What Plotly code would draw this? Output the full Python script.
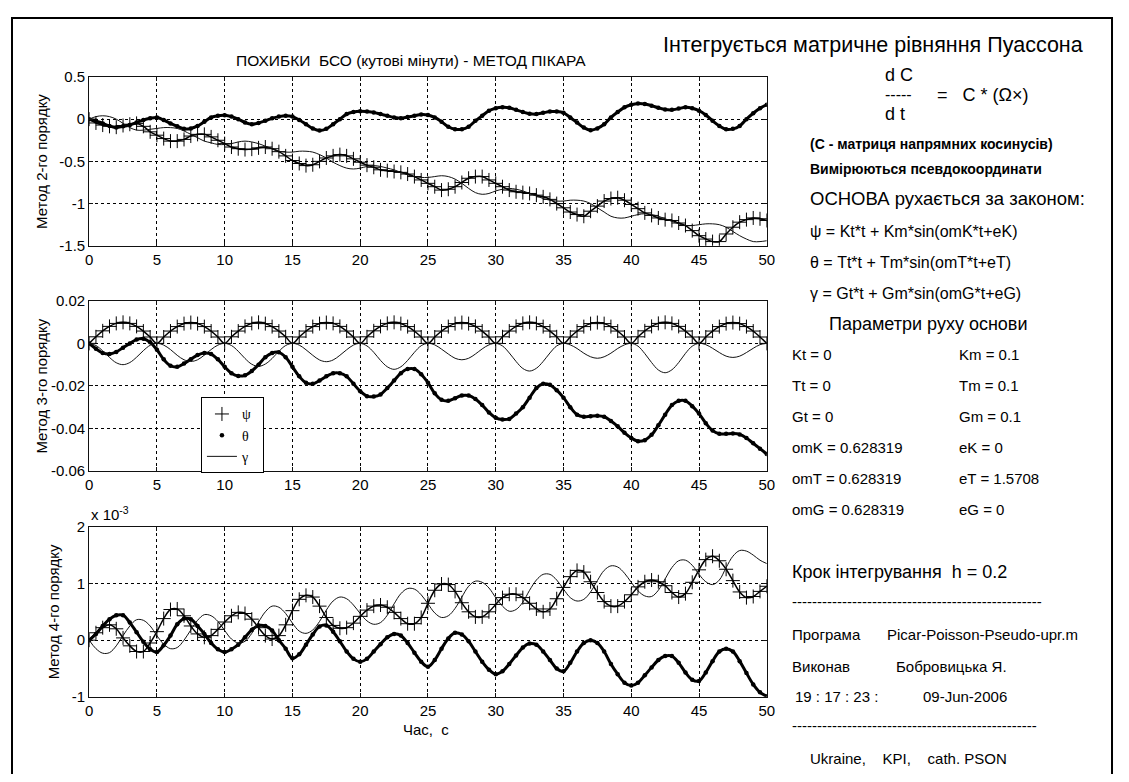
import plotly.graph_objects as go

# The page body keeps its default 8px margin, so the figure is 16px smaller
# than the window and all reference pixel positions are shifted by 8px.
OFF = 8
FW, FH = 1113, 766
FONT = "Liberation Sans"

# time grid (s)
t = [i * 0.5 for i in range(101)]

# ---- Plot 1: method of 2nd order (angular minutes)
psi1 = [0, -0.045, -0.07, -0.085, -0.095, -0.075, -0.06, -0.05, -0.085, -0.15,
        -0.19, -0.23, -0.26, -0.26, -0.24, -0.2, -0.18, -0.18, -0.21, -0.25,
        -0.29, -0.33, -0.35, -0.36, -0.355, -0.34, -0.33, -0.35, -0.385, -0.435,
        -0.49, -0.525, -0.55, -0.54, -0.5, -0.46, -0.435, -0.42, -0.435, -0.47,
        -0.51, -0.545, -0.57, -0.6, -0.61, -0.62, -0.63, -0.65, -0.68, -0.72,
        -0.76, -0.8, -0.84, -0.83, -0.8, -0.75, -0.7, -0.68, -0.68, -0.72,
        -0.76, -0.8, -0.84, -0.86, -0.87, -0.88, -0.9, -0.92, -0.95, -1.0,
        -1.05, -1.1, -1.13, -1.15, -1.09, -1.03, -0.97, -0.94, -0.93, -0.96,
        -1.01, -1.06, -1.11, -1.14, -1.17, -1.19, -1.2, -1.23, -1.26, -1.32,
        -1.38, -1.42, -1.45, -1.45, -1.36, -1.28, -1.22, -1.19, -1.17, -1.18,
        -1.2]
theta1 = [0, -0.02, -0.05, -0.08, -0.1, -0.085, -0.07, -0.04, -0.01, 0.01,
          0.02, -0.01, -0.05, -0.085, -0.115, -0.11, -0.08, -0.03, 0.02, 0.04,
          0.045, 0.03, 0.0, -0.04, -0.06, -0.045, -0.02, 0.01, 0.03, 0.04,
          0.03, -0.01, -0.06, -0.11, -0.135, -0.115, -0.06, 0.0, 0.06, 0.085,
          0.095, 0.09, 0.08, 0.06, 0.04, 0.02, 0.01, 0.025, 0.04, 0.055,
          0.05, 0.02, -0.03, -0.09, -0.12, -0.12, -0.09, -0.02, 0.04, 0.1,
          0.13, 0.14, 0.135, 0.11, 0.085, 0.065, 0.06, 0.075, 0.09, 0.09,
          0.075, 0.02, -0.04, -0.1, -0.13, -0.11, -0.06, 0.02, 0.085, 0.14,
          0.17, 0.185, 0.18, 0.16, 0.135, 0.115, 0.11, 0.125, 0.14, 0.13,
          0.1, 0.05, -0.02, -0.08, -0.12, -0.115, -0.08, 0.0, 0.07, 0.13,
          0.17]
gamma1 = [0, 0.03, 0.04, 0.03, 0.0, -0.05, -0.1, -0.13, -0.13, -0.12,
          -0.11, -0.1, -0.1, -0.11, -0.14, -0.18, -0.22, -0.26, -0.28, -0.3,
          -0.3, -0.29, -0.27, -0.26, -0.27, -0.29, -0.32, -0.35, -0.38, -0.39,
          -0.39, -0.38, -0.38, -0.39, -0.42, -0.46, -0.51, -0.55, -0.58, -0.59,
          -0.58, -0.56, -0.55, -0.56, -0.58, -0.6, -0.63, -0.66, -0.68, -0.69,
          -0.69, -0.68, -0.67, -0.68, -0.71, -0.76, -0.82, -0.87, -0.89, -0.88,
          -0.85, -0.83, -0.82, -0.83, -0.85, -0.88, -0.91, -0.94, -0.96, -0.97,
          -0.97, -0.96, -0.96, -0.97, -1.0, -1.05, -1.1, -1.15, -1.17, -1.17,
          -1.15, -1.13, -1.12, -1.13, -1.15, -1.18, -1.21, -1.24, -1.26, -1.26,
          -1.25, -1.24, -1.24, -1.25, -1.28, -1.33, -1.38, -1.42, -1.45, -1.45,
          -1.44]

# ---- Plot 2: method of 3rd order
psi2 = [0, 0.0031, 0.0059, 0.0080, 0.0094, 0.0099, 0.0094, 0.0080, 0.0058, 0.0030,
        0, 0.0030, 0.0058, 0.0079, 0.0093, 0.0098, 0.0093, 0.0079, 0.0058, 0.0030,
        0, 0.0031, 0.0058, 0.0080, 0.0094, 0.0099, 0.0093, 0.0079, 0.0058, 0.0031,
        0, 0.0030, 0.0058, 0.0079, 0.0093, 0.0098, 0.0094, 0.0080, 0.0058, 0.0030,
        0, 0.0031, 0.0059, 0.0080, 0.0094, 0.0099, 0.0093, 0.0079, 0.0058, 0.0030,
        0, 0.0030, 0.0058, 0.0079, 0.0093, 0.0098, 0.0093, 0.0080, 0.0058, 0.0030,
        0, 0.0031, 0.0058, 0.0080, 0.0094, 0.0099, 0.0094, 0.0079, 0.0058, 0.0031,
        0, 0.0030, 0.0058, 0.0079, 0.0093, 0.0098, 0.0093, 0.0079, 0.0058, 0.0030,
        0, 0.0031, 0.0059, 0.0080, 0.0094, 0.0099, 0.0094, 0.0080, 0.0058, 0.0030,
        0, 0.0030, 0.0058, 0.0079, 0.0093, 0.0098, 0.0093, 0.0079, 0.0058, 0.0030,
        0]
theta2 = [0, -0.0025, -0.0045, -0.005, -0.004, -0.002, 0.0, 0.0018, 0.0022, 0.0005,
          -0.003, -0.0075, -0.0105, -0.011, -0.0095, -0.0075, -0.0055, -0.0045, -0.005, -0.0075,
          -0.011, -0.014, -0.0153, -0.015, -0.013, -0.01, -0.0065, -0.0045, -0.0042, -0.0065,
          -0.011, -0.0155, -0.0185, -0.019, -0.0175, -0.0155, -0.014, -0.014, -0.0155, -0.019,
          -0.0225, -0.0248, -0.025, -0.024, -0.021, -0.0175, -0.014, -0.012, -0.012, -0.0145,
          -0.0185, -0.0235, -0.0265, -0.027, -0.0258, -0.0245, -0.0245, -0.0262, -0.029, -0.0325,
          -0.035, -0.0358, -0.0355, -0.033, -0.03, -0.0255, -0.021, -0.019, -0.0195, -0.022,
          -0.0255, -0.03, -0.0335, -0.0345, -0.0342, -0.034, -0.0345, -0.0365, -0.039, -0.042,
          -0.0445, -0.046, -0.0455, -0.043, -0.0385, -0.0335, -0.029, -0.027, -0.027, -0.0295,
          -0.033, -0.0375, -0.041, -0.0425, -0.0425, -0.0424, -0.0428, -0.0445, -0.047, -0.0495,
          -0.052]
gamma2 = [0, -0.0010, -0.0035, -0.0066, -0.0091, -0.0100, -0.0090, -0.0065, -0.0034, -0.0009,
          0, -0.0008, -0.0029, -0.0056, -0.0077, -0.0085, -0.0077, -0.0055, -0.0029, -0.0008,
          0, -0.0010, -0.0037, -0.0071, -0.0098, -0.0108, -0.0097, -0.0071, -0.0037, -0.0010,
          0, -0.0008, -0.0030, -0.0056, -0.0078, -0.0086, -0.0078, -0.0056, -0.0030, -0.0008,
          0, -0.0012, -0.0042, -0.0080, -0.0110, -0.0122, -0.0110, -0.0080, -0.0042, -0.0011,
          0, -0.0007, -0.0027, -0.0050, -0.0070, -0.0077, -0.0070, -0.0050, -0.0026, -0.0007,
          0, -0.0012, -0.0045, -0.0085, -0.0118, -0.0130, -0.0117, -0.0085, -0.0045, -0.0012,
          0, -0.0007, -0.0024, -0.0046, -0.0063, -0.0070, -0.0063, -0.0046, -0.0024, -0.0007,
          0, -0.0013, -0.0048, -0.0090, -0.0125, -0.0138, -0.0124, -0.0090, -0.0047, -0.0013,
          0, -0.0006, -0.0023, -0.0043, -0.0060, -0.0066, -0.0060, -0.0043, -0.0023, -0.0006,
          0]

# ---- Plot 3: method of 4th order (units of 1e-3)
psi3 = [0, 0.13, 0.22, 0.27, 0.2, 0.04, -0.1, -0.2, -0.2, -0.05,
        0.15, 0.38, 0.54, 0.55, 0.43, 0.25, 0.11, 0.05, 0.08, 0.19,
        0.32, 0.43, 0.49, 0.47, 0.37, 0.22, 0.08, 0.02, 0.08, 0.27,
        0.52, 0.72, 0.79, 0.76, 0.6, 0.4, 0.26, 0.21, 0.22, 0.3,
        0.42, 0.53, 0.6, 0.62, 0.58, 0.49, 0.38, 0.29, 0.29, 0.4,
        0.65, 0.88, 0.99, 0.98, 0.86, 0.66, 0.5, 0.41, 0.41, 0.5,
        0.63, 0.75, 0.81, 0.81, 0.75, 0.65, 0.55, 0.5, 0.55, 0.73,
        0.93, 1.12, 1.23, 1.2, 1.03, 0.84, 0.68, 0.6, 0.6, 0.68,
        0.8, 0.94, 1.03, 1.06, 1.03, 0.96, 0.84, 0.76, 0.82, 1.02,
        1.24, 1.42, 1.48, 1.4, 1.25, 1.05, 0.85, 0.75, 0.77, 0.86,
        0.95]
theta3 = [0, 0.11, 0.25, 0.37, 0.44, 0.44, 0.31, 0.14, -0.03, -0.16,
          -0.21, -0.09, 0.08, 0.28, 0.38, 0.37, 0.25, 0.11, -0.05, -0.16,
          -0.21, -0.16, -0.08, 0.05, 0.18, 0.26, 0.25, 0.17, 0.0, -0.15,
          -0.32, -0.25, -0.08, 0.1, 0.24, 0.26, 0.15, -0.02, -0.2, -0.33,
          -0.38, -0.33, -0.2, -0.07, 0.05, 0.11, 0.08, -0.05, -0.22, -0.38,
          -0.47, -0.35, -0.15, 0.03, 0.13, 0.1, -0.02, -0.2, -0.38, -0.52,
          -0.6, -0.55, -0.42, -0.27, -0.13, -0.06, -0.08, -0.2, -0.35, -0.5,
          -0.55, -0.4, -0.2, -0.05, 0.0, -0.05, -0.2, -0.42, -0.6, -0.75,
          -0.8, -0.75, -0.62, -0.48, -0.35, -0.28, -0.28, -0.4, -0.57, -0.7,
          -0.72, -0.57, -0.37, -0.2, -0.15, -0.2, -0.37, -0.58, -0.78, -0.92,
          -0.99]
gamma3 = [0, -0.15, -0.23, -0.22, -0.1, 0.08, 0.25, 0.36, 0.35, 0.25,
          0.08, -0.07, -0.15, -0.13, 0.0, 0.18, 0.35, 0.45, 0.43, 0.33,
          0.17, 0.02, -0.05, -0.02, 0.12, 0.32, 0.5, 0.6, 0.58, 0.47,
          0.3, 0.16, 0.12, 0.18, 0.33, 0.53, 0.69, 0.76, 0.73, 0.62,
          0.47, 0.34, 0.28, 0.31, 0.44, 0.64, 0.82, 0.91, 0.9, 0.8,
          0.64, 0.48, 0.4, 0.43, 0.56, 0.76, 0.95, 1.04, 1.02, 0.92,
          0.75, 0.6, 0.51, 0.54, 0.67, 0.88, 1.06, 1.16, 1.16, 1.06,
          0.9, 0.75, 0.69, 0.72, 0.85, 1.05, 1.23, 1.31, 1.29, 1.18,
          1.02, 0.87, 0.78, 0.77, 0.88, 1.08, 1.28, 1.4, 1.41, 1.32,
          1.16, 1.03, 0.98, 1.06, 1.28, 1.48, 1.58, 1.57, 1.5, 1.41,
          1.35]

x_ticks = list(range(0, 51, 5))
y1_ticks = [-1.5, -1, -0.5, 0, 0.5]
y1_labels = ["-1.5", "-1", "-0.5", "0", "0.5"]
y2_ticks = [-0.06, -0.04, -0.02, 0, 0.02]
y2_labels = ["-0.06", "-0.04", "-0.02", "0", "0.02"]
y3_ticks = [-1, 0, 1, 2]
y3_labels = ["-1", "0", "1", "2"]

series = [(psi1, theta1, gamma1), (psi2, theta2, gamma2), (psi3, theta3, gamma3)]
NB = "\u00a0"

fig = go.Figure()
for k, (ps, th, ga) in enumerate(series):
    ax = "" if k == 0 else str(k + 1)
    first = k == 0
    fig.add_trace(go.Scatter(x=t, y=ps, mode="lines", showlegend=False,
                             xaxis="x" + ax, yaxis="y" + ax, hoverinfo="skip",
                             line=dict(color="black", width=1.5, shape="spline")))
    fig.add_trace(go.Scatter(x=t, y=ps, mode="markers", name="ψ" + NB * 2,
                             xaxis="x" + ax, yaxis="y" + ax, showlegend=first,
                             marker=dict(symbol="cross-thin", size=10, color="black",
                                         line=dict(color="black", width=1))))
    fig.add_trace(go.Scatter(x=t, y=th, mode="lines", showlegend=False,
                             xaxis="x" + ax, yaxis="y" + ax, hoverinfo="skip",
                             line=dict(color="black", width=3, shape="spline")))
    fig.add_trace(go.Scatter(x=t, y=th, mode="markers", name="θ" + NB * 2,
                             xaxis="x" + ax, yaxis="y" + ax, showlegend=first,
                             marker=dict(symbol="circle", size=4.5, color="black")))
    fig.add_trace(go.Scatter(x=t, y=ga, mode="lines", name="γ" + NB * 2,
                             xaxis="x" + ax, yaxis="y" + ax, showlegend=first,
                             line=dict(color="#111", width=1, shape="spline")))


def px(x):
    return (x - OFF) / FW


def py(y):
    return 1 - (y - OFF) / FH


xdom = [px(86), px(771)]
ydoms = [[py(242), py(69.3)], [py(472.3), py(298.3)], [py(703.3), py(529.3)]]
yticks = [(y1_ticks, y1_labels, [-1.5, 0.5]), (y2_ticks, y2_labels, [-0.06, 0.02]),
          (y3_ticks, y3_labels, [-1, 2])]

axis_common = dict(showgrid=True, gridcolor="black", gridwidth=1, griddash="3px,3px",
                   showline=True, linecolor="#111", linewidth=1, mirror="ticks",
                   ticks="inside", ticklen=4, tickcolor="#111", zeroline=False,
                   tickfont=dict(family=FONT, size=15, color="black"))

layout_axes = {}
for k in range(3):
    ax = "" if k == 0 else str(k + 1)
    layout_axes["xaxis" + ax] = dict(domain=xdom, anchor="y" + ax, range=[0, 50],
                                     tickvals=x_ticks, ticktext=[str(v) for v in x_ticks],
                                     **axis_common)
    tv, tt, rg = yticks[k]
    layout_axes["yaxis" + ax] = dict(domain=ydoms[k], anchor="x" + ax, range=rg,
                                     tickvals=tv, ticktext=tt, **axis_common)


def txt(s, x, y, size=15, xanchor="left", angle=0, family=FONT):
    return dict(text=s, x=px(x), y=py(y), xref="paper", yref="paper",
                xanchor=xanchor, yanchor="middle", showarrow=False, textangle=angle,
                font=dict(size=size, family=family, color="black"))


ann = [
    txt("ПОХИБКИ" + NB * 2 + "БСО (кутові мінути) - МЕТОД ПІКАРА", 411, 52, 15.5, "center"),
    txt("Метод 2-го порядку", 38, 155.6, 15, "center", -90),
    txt("Метод 3-го порядку", 38, 385.3, 15, "center", -90),
    txt("Метод 4-го порядку", 50, 616.3, 15, "center", -90),
    txt("x 10<sup>-3</sup>", 86, 516, 15),
    txt("Час," + NB * 2 + "с", 427, 737, 15, "center"),
    txt("Інтегрується матричне рівняння Пуассона", 878, 37, 21.5, "center"),
    txt("d C", 888, 67, 18),
    txt("-----", 888, 87, 16),
    txt("=" + NB * 3 + "C * (Ω×)", 941, 88, 18),
    txt("d t", 888, 107, 18),
    txt("<b>(C - матриця напрямних косинусів)</b>", 813, 138, 14),
    txt("<b>Вимірюються псевдокоординати</b>", 813, 163, 14),
    txt("ОСНОВА рухається за законом:", 813, 194, 18.5),
    txt("ψ = Kt*t + Km*sin(omK*t+eK)", 813, 227, 16),
    txt("θ = Tt*t + Tm*sin(omT*t+eT)", 813, 259, 16),
    txt("γ = Gt*t + Gm*sin(omG*t+eG)", 813, 291, 16),
    txt("Параметри руху основи", 832, 322, 18),
    txt("Kt = 0", 794, 353, 15), txt("Km = 0.1", 963, 353, 15),
    txt("Tt = 0", 794, 385, 15), txt("Tm = 0.1", 963, 385, 15),
    txt("Gt = 0", 794, 417, 15), txt("Gm = 0.1", 963, 417, 15),
    txt("omK = 0.628319", 794, 448, 15), txt("eK = 0", 963, 448, 15),
    txt("omT = 0.628319", 794, 480, 15), txt("eT = 1.5708", 963, 480, 15),
    txt("omG = 0.628319", 794, 512, 15), txt("eG = 0", 963, 512, 15),
    txt("Крок інтегрування" + NB * 2 + "h = 0.2", 794, 576, 18),
    txt("-" * 50, 794, 606, 15),
    txt("Програма", 794, 640, 15), txt("Picar-Poisson-Pseudo-upr.m", 891, 640, 15),
    txt("Виконав", 794, 672, 15), txt("Бобровицька Я.", 900, 672, 15),
    txt("19 : 17 : 23 :", 798, 703, 15), txt("09-Jun-2006", 927, 703, 15),
    txt("-" * 49, 794, 733, 15),
    txt("Ukraine," + NB * 4 + "KPI," + NB * 4 + "cath. PSON", 813, 766, 15),
]

shapes = [dict(type="rect", xref="paper", yref="paper", x0=px(8), x1=px(1120),
               y0=py(9), y1=py(800), line=dict(color="black", width=2))]

fig.update_layout(
    width=FW, height=FH, margin=dict(l=0, r=0, t=0, b=0),
    paper_bgcolor="white", plot_bgcolor="white",
    font=dict(family=FONT, size=15, color="black"),
    annotations=ann, shapes=shapes,
    legend=dict(x=px(199), y=py(397), xanchor="left", yanchor="top",
                bgcolor="white", bordercolor="black", borderwidth=1,
                font=dict(family="Liberation Serif", size=14, color="black"),
                tracegroupgap=0, itemsizing="trace"),
    **layout_axes,
)

fig.write_html("out.html", config={"displayModeBar": False})
